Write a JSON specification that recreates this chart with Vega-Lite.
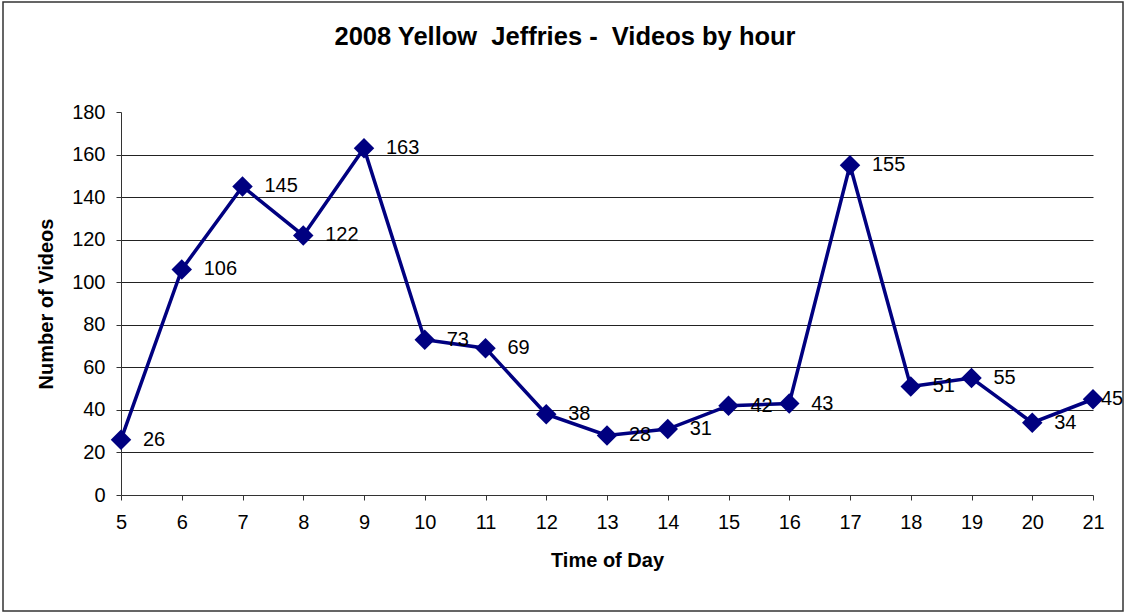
{
  "$schema": "https://vega.github.io/schema/vega-lite/v6.json",
  "width": 1120,
  "height": 609,
  "autosize": {"type": "none"},
  "padding": {"left": 3, "top": 2, "right": 3, "bottom": 3},
  "background": "white",
  "title": {
    "text": "2008 Yellow\u00a0 Jeffries -\u00a0 Videos by hour",
    "font": "Liberation Sans",
    "fontSize": 25.5,
    "fontWeight": "bold",
    "baseline": "alphabetic",
    "color": "#000",
    "anchor": "middle",
    "frame": "group",
    "dx": 2,
    "offset": -68
  },
  "config": {
    "view": {"stroke": "#333", "strokeWidth": 1.5},
    "font": "Liberation Sans",
    "axis": {
      "labelFont": "Liberation Sans",
      "titleFont": "Liberation Sans",
      "labelColor": "#000",
      "titleColor": "#000",
      "domainColor": "#333",
      "tickColor": "#333",
      "gridColor": "#222",
      "gridWidth": 1,
      "tickSize": 5
    }
  },
  "data": {
    "values": [
      {"hour": 5, "videos": 26},
      {"hour": 6, "videos": 106},
      {"hour": 7, "videos": 145},
      {"hour": 8, "videos": 122},
      {"hour": 9, "videos": 163},
      {"hour": 10, "videos": 73},
      {"hour": 11, "videos": 69},
      {"hour": 12, "videos": 38},
      {"hour": 13, "videos": 28},
      {"hour": 14, "videos": 31},
      {"hour": 15, "videos": 42},
      {"hour": 16, "videos": 43},
      {"hour": 17, "videos": 155},
      {"hour": 18, "videos": 51},
      {"hour": 19, "videos": 55},
      {"hour": 20, "videos": 34},
      {"hour": 21, "videos": 45}
    ]
  },
  "encoding": {
    "x": {
      "field": "hour",
      "type": "quantitative",
      "scale": {"domain": [5, 21], "nice": false, "zero": false, "range": [118, 1090]},
      "axis": {
        "title": "Time of Day",
        "values": [5,6,7,8,9,10,11,12,13,14,15,16,17,18,19,20,21],
        "grid": false,
        "labelFlush": false,
        "labelOverlap": false,
        "offset": -116,
        "labelFontSize": 20,
        "labelPadding": 12,
        "titleFontSize": 20,
        "titleFontWeight": "bold",
        "titleLetterSpacing": 0.8,
        "titlePadding": 18
      }
    },
    "y": {
      "field": "videos",
      "type": "quantitative",
      "scale": {"domain": [0, 180], "nice": false, "range": [493, 110]},
      "axis": {
        "title": "Number of Videos",
        "values": [0,20,40,60,80,100,120,140,160,180],
        "grid": true,
        "labelFlush": false,
        "gridOpacity": {"condition": {"test": "datum.value == 180 || datum.value == 0", "value": 0}, "value": 1},
        "offset": -118,
        "labelFontSize": 20,
        "labelPadding": 11,
        "titleFontSize": 20,
        "titleFontWeight": "bold",
        "titleLetterSpacing": 1,
        "titlePadding": 15
      }
    }
  },
  "layer": [
    {"mark": {"type": "line", "color": "#000080", "strokeWidth": 3.5, "clip": false}},
    {"mark": {"type": "point", "shape": "diamond", "filled": true, "size": 420, "color": "#000080", "opacity": 1, "clip": false}},
    {
      "transform": [{"filter": "datum.hour < 21"}],
      "mark": {"type": "text", "align": "left", "baseline": "middle", "dx": 22, "fontSize": 20, "color": "#000", "clip": false},
      "encoding": {"text": {"field": "videos", "type": "quantitative"}}
    },
    {
      "transform": [{"filter": "datum.hour == 21"}],
      "mark": {"type": "text", "align": "left", "baseline": "middle", "dx": 8, "fontSize": 20, "color": "#000", "clip": false},
      "encoding": {"text": {"field": "videos", "type": "quantitative"}}
    }
  ]
}
